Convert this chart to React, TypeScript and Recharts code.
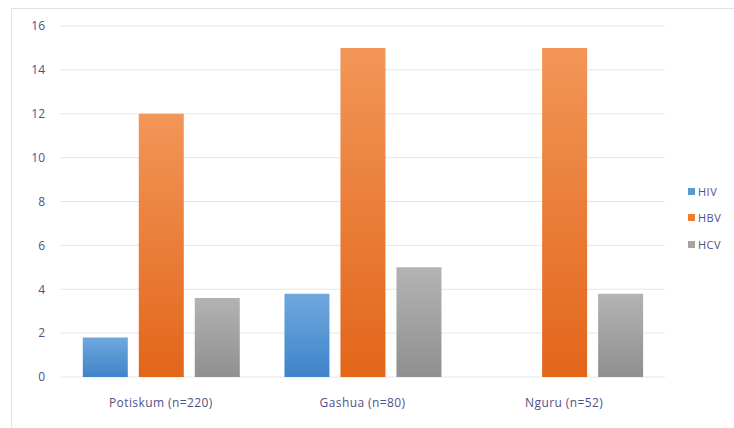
import { BarChart, Bar, XAxis, YAxis, CartesianGrid, Legend } from 'recharts';

const sites = ['Potiskum (n=220)', 'Gashua (n=80)', 'Nguru (n=52)'];
const hiv = [1.8, 3.8, 0];
const hbv = [12, 15, 15];
const hcv = [3.6, 5, 3.8];
const yTicks = [0, 2, 4, 6, 8, 10, 12, 14, 16];

const SERIES = [
  { key: 'HIV', color: '#5b9bd5', top: '#6fa8de', bottom: '#3f84c9' },
  { key: 'HBV', color: '#ed7d31', top: '#f29658', bottom: '#e2661a' },
  { key: 'HCV', color: '#a5a5a5', top: '#b3b3b3', bottom: '#8f8f8f' },
];

const data = sites.map((site, i) => ({
  site,
  HIV: hiv[i],
  HBV: hbv[i],
  HCV: hcv[i],
}));

const TEXT = '#4f5288';
const FONT = '"Open Sans", sans-serif';

function LegendBox() {
  return (
    <div style={{ fontFamily: FONT, fontSize: 11, color: TEXT }}>
      {SERIES.map((s) => (
        <div key={s.key} style={{ display: 'flex', alignItems: 'center', height: 26.5 }}>
          <span style={{ width: 7, height: 7, background: s.color, marginRight: 3 }} />
          <span style={{ letterSpacing: 0.5 }}>{s.key}</span>
        </div>
      ))}
    </div>
  );
}

export default function App() {
  return (
    <div style={{ position: 'absolute', left: 0, top: 0, width: 734, height: 428, background: '#fff' }}>
      <div
        style={{
          position: 'absolute',
          left: 11,
          top: 8,
          right: 0,
          bottom: 0,
          borderTop: '1px solid #e3e3e3',
          borderLeft: '1px solid #e3e3e3',
        }}
      />
      <div style={{ position: 'absolute', left: 0, top: 0 }}>
        <BarChart
          width={734}
          height={428}
          data={data}
          margin={{ top: 26, right: 23, bottom: 0, left: 0 }}
          barCategoryGap="11.3%"
          barGap={11}
        >
          <defs>
            {SERIES.map((s) => (
              <linearGradient key={s.key} id={`grad-${s.key}`} x1="0" y1="0" x2="0" y2="1">
                <stop offset="0%" stopColor={s.top} />
                <stop offset="100%" stopColor={s.bottom} />
              </linearGradient>
            ))}
          </defs>
          <CartesianGrid vertical={false} stroke="#e6e6e6" />
          <XAxis
            dataKey="site"
            axisLine={false}
            tickLine={false}
            height={51}
            tickMargin={15}
            tick={{ fill: TEXT, fontSize: 12, fontFamily: FONT, letterSpacing: 0.4 }}
          />
          <YAxis
            domain={[0, 16]}
            ticks={yTicks}
            axisLine={false}
            tickLine={false}
            width={60}
            tickMargin={9}
            tick={{ fill: TEXT, fontSize: 12, fontFamily: FONT }}
          />
          <Legend
            verticalAlign="middle"
            align="right"
            layout="horizontal"
            content={() => <LegendBox />}
            wrapperStyle={{ left: 688, top: 178, width: 46 }}
          />
          {SERIES.map((s) => (
            <Bar key={s.key} dataKey={s.key} fill={`url(#grad-${s.key})`} isAnimationActive={false} />
          ))}
        </BarChart>
      </div>
    </div>
  );
}
